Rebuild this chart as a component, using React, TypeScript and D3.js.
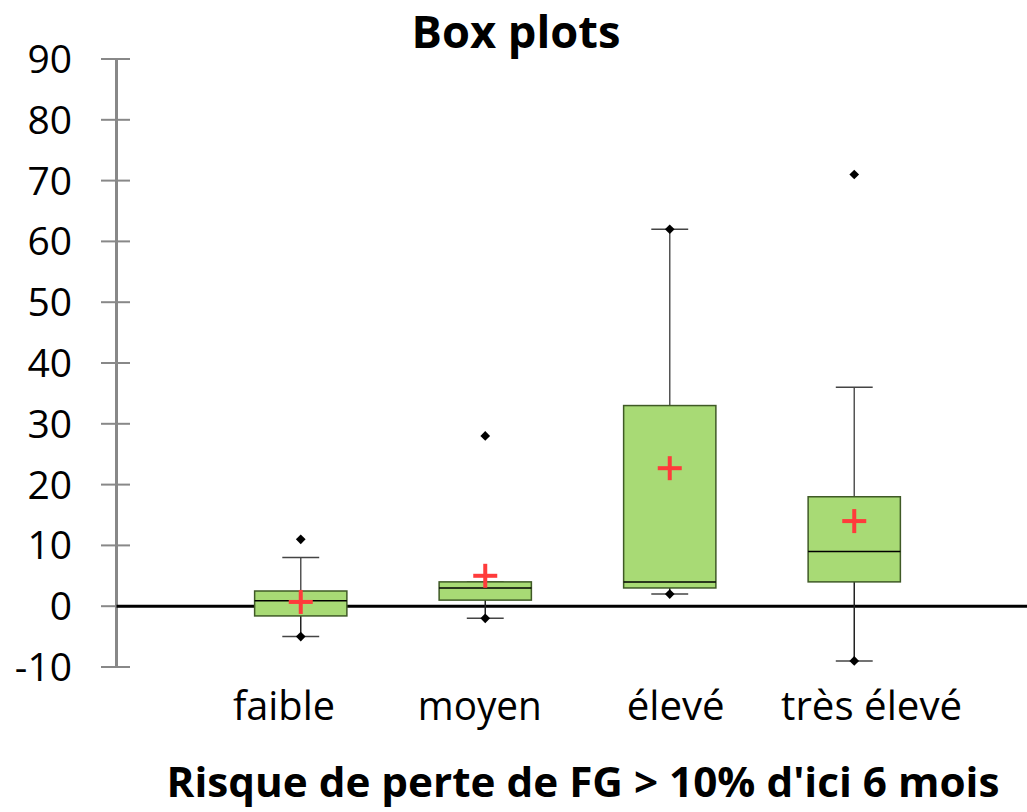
import React from 'react';
import * as d3 from 'd3';

const categories = ['faible', 'moyen', 'élevé', 'très élevé'];
const q1 = [-1.6, 1, 3, 4];
const medians = [0.9, 3, 4, 9];
const q3 = [2.5, 4, 33, 18];
const whiskerLow = [-5, -2, 2, -9];
const whiskerHigh = [8, 4, 62, 36];
const means = [0.7, 5, 22.7, 14];
const minVals = [-5, -2, 2, -9];
const maxVals = [11, 28, 62, 71];
const yTicks = [-10, 0, 10, 20, 30, 40, 50, 60, 70, 80, 90];
const catLabelWidths = [102, 124, 98, 181];

export default function App() {
  const W = 1027, H = 812;
  const y = d3.scaleLinear().domain([-10, 90]).range([667, 59]);
  const x = d3.scaleBand().domain(categories).range([208.5, 946.5]);
  const xLabel = d3.scaleBand().domain(categories).range([186, 969.5]);
  const bw = x.bandwidth() * 0.5;
  const capW = bw * 0.4;
  const axisX = 116.5;
  const diamond = d3.symbol().type(d3.symbolDiamond2 || d3.symbolDiamond).size(60)();
  const green = '#a8da75';
  const font = "'Open Sans', sans-serif";
  return (
    <svg width={W} height={H} style={{ position: 'absolute', left: 0, top: 0, background: '#fff' }}>
      <text x={516} y={48} textAnchor="middle" fontFamily={font} fontWeight={700} fontSize={44} textLength={209} lengthAdjust="spacingAndGlyphs">Box plots</text>
      {/* y axis */}
      <line x1={axisX} x2={axisX} y1={y(90)} y2={y(-10)} stroke="#888" strokeWidth={3} />
      {yTicks.map(t => (
        <g key={t}>
          <line x1={101} x2={130} y1={y(t)} y2={y(t)} stroke="#888" strokeWidth={2} />
          <text x={72} y={y(t)} dy="0.357em" textAnchor="end" fontFamily={font} fontSize={39} fill="#000">{t}</text>
        </g>
      ))}
      {/* zero line */}
      <line x1={axisX} x2={W} y1={y(0)} y2={y(0)} stroke="#000" strokeWidth={3} />
      {categories.map((c, i) => {
        const cx = (x(c) as number) + x.bandwidth() / 2;
        const lx = (xLabel(c) as number) + xLabel.bandwidth() / 2;
        return (
          <g key={c}>
            <line x1={cx} x2={cx} y1={y(q3[i])} y2={y(whiskerHigh[i])} stroke="#555" strokeWidth={1.5} />
            <line x1={cx} x2={cx} y1={y(q1[i])} y2={y(whiskerLow[i])} stroke="#222" strokeWidth={1.5} />
            <line x1={cx - capW / 2} x2={cx + capW / 2} y1={y(whiskerHigh[i])} y2={y(whiskerHigh[i])} stroke="#444" strokeWidth={1.5} />
            <line x1={cx - capW / 2} x2={cx + capW / 2} y1={y(whiskerLow[i])} y2={y(whiskerLow[i])} stroke="#444" strokeWidth={1.5} />
            <rect x={cx - bw / 2} y={y(q3[i])} width={bw} height={y(q1[i]) - y(q3[i])} fill={green} stroke="#3f5a26" strokeWidth={1.5} />
            <line x1={cx - bw / 2} x2={cx + bw / 2} y1={y(medians[i])} y2={y(medians[i])} stroke="#000" strokeWidth={1.5} />
            <path d={diamond} transform={`translate(${cx},${y(minVals[i])})`} fill="#000" />
            <path d={diamond} transform={`translate(${cx},${y(maxVals[i])})`} fill="#000" />
            <g stroke="#ff3b3b" strokeWidth={4}>
              <line x1={cx - 12} x2={cx + 12} y1={y(means[i])} y2={y(means[i])} />
              <line x1={cx} x2={cx} y1={y(means[i]) - 12} y2={y(means[i]) + 12} />
            </g>
            <text x={lx} y={720} textAnchor="middle" fontFamily={font} fontSize={40} textLength={catLabelWidths[i]} lengthAdjust="spacingAndGlyphs">{c}</text>
          </g>
        );
      })}
      <text x={583} y={797} textAnchor="middle" fontFamily={font} fontWeight={700} fontSize={42} textLength={833} lengthAdjust="spacingAndGlyphs">Risque de perte de FG &gt; 10% d'ici 6 mois</text>
    </svg>
  );
}
